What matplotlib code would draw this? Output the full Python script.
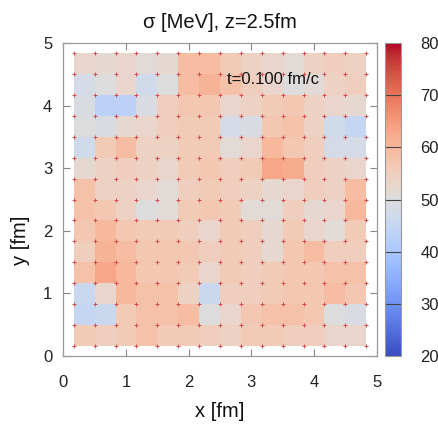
import numpy as np
import matplotlib
matplotlib.use("Agg")
import matplotlib.pyplot as plt

plt.rcParams['font.family'] = ['Liberation Sans', 'DejaVu Sans']

# Cell values (rows listed from top y≈4.83 down to bottom y≈0.17)
row_00 = [53, 52, 53, 51, 52, 59, 59, 56, 54, 53, 51, 54, 55, 54]
row_01 = [48, 50, 53, 47, 50, 59, 61, 58, 55, 53, 50, 51, 54, 55]
row_02 = [49, 43, 43, 49, 55, 57, 57, 53, 54, 56, 57, 54, 53, 52]
row_03 = [50, 49, 52, 53, 55, 56, 56, 48, 49, 57, 58, 54, 47, 45]
row_04 = [47, 56, 59, 54, 54, 56, 56, 51, 53, 60, 57, 55, 48, 48]
row_05 = [52, 54, 55, 54, 53, 56, 57, 55, 56, 63, 62, 55, 54, 53]
row_06 = [58, 54, 54, 53, 51, 55, 56, 55, 54, 52, 53, 55, 54, 59]
row_07 = [58, 57, 54, 50, 51, 56, 57, 56, 51, 51, 55, 52, 53, 60]
row_08 = [57, 60, 57, 56, 56, 55, 53, 56, 55, 52, 56, 53, 51, 56]
row_09 = [55, 61, 59, 57, 57, 57, 55, 56, 55, 52, 57, 59, 55, 55]
row_10 = [58, 63, 60, 57, 57, 56, 53, 56, 55, 56, 57, 57, 58, 58]
row_11 = [46, 53, 60, 58, 58, 54, 46, 55, 55, 56, 57, 57, 59, 57]
row_12 = [45, 46, 56, 58, 58, 59, 50, 53, 57, 58, 58, 57, 50, 49]
row_13 = [56, 55, 56, 58, 56, 56, 55, 54, 56, 56, 55, 55, 53, 53]

rows_top_to_bottom = [row_00, row_01, row_02, row_03, row_04, row_05, row_06,
                      row_07, row_08, row_09, row_10, row_11, row_12, row_13]

# Lattice points (cell edges) in fm
grid_x = np.linspace(1/6, 29/6, 15)
grid_y = np.linspace(1/6, 29/6, 15)

x_ticks = [0, 1, 2, 3, 4, 5]
y_ticks = [0, 1, 2, 3, 4, 5]
cbar_ticks = [20, 30, 40, 50, 60, 70, 80]
vmin, vmax = 20, 80

title = "σ [MeV], z=2.5fm"
time_label = "t=0.100 fm/c"

Z = np.array(rows_top_to_bottom[::-1], dtype=float)

fig = plt.figure(figsize=(4.38, 4.26), dpi=100)
ax = fig.add_axes([0.1445, 0.1643, 0.7155, 0.7347])
cax = fig.add_axes([0.879, 0.1643, 0.0365, 0.7347])

mesh = ax.pcolormesh(grid_x, grid_y, Z, cmap='coolwarm', vmin=vmin, vmax=vmax,
                     shading='flat', zorder=1, antialiased=False, linewidth=0)

ax.text(2.61, 4.41, time_label, fontsize=12, color='#111111',
        ha='left', va='center', zorder=2)

GX, GY = np.meshgrid(grid_x, grid_y)
ax.plot(GX.ravel(), GY.ravel(), linestyle='none', marker='+', markersize=3.2,
        markeredgewidth=0.7, color='#d23c40', alpha=0.9, zorder=3)

ax.set_xlim(0, 5)
ax.set_ylim(0, 5)
ax.set_xticks(x_ticks)
ax.set_yticks(y_ticks)
ax.tick_params(direction='in', length=5, width=0.8, color='#888888',
               top=True, right=True, labelsize=12, labelcolor='#222222')
ax.tick_params(axis='x', pad=14)
ax.tick_params(axis='y', pad=8)
for s in ax.spines.values():
    s.set_color('#999999')
    s.set_linewidth(0.9)

ax.set_title(title, fontsize=14.5, pad=11, color='#111111')
ax.set_xlabel("x [fm]", fontsize=14.5, color='#111111', labelpad=8)
ax.set_ylabel("y [fm]", fontsize=14.5, color='#111111')
ax.yaxis.set_label_coords(-0.105, 0.37)

cb = fig.colorbar(mesh, cax=cax, ticks=cbar_ticks)
cb.outline.set_edgecolor('#999999')
cb.outline.set_linewidth(0.8)
cax.tick_params(length=0, labelsize=12, labelcolor='#222222', pad=14)
for v in cbar_ticks[1:-1]:
    cax.axhline(v, color='#444444', linewidth=0.8)

fig.savefig("out.png", dpi=100)
